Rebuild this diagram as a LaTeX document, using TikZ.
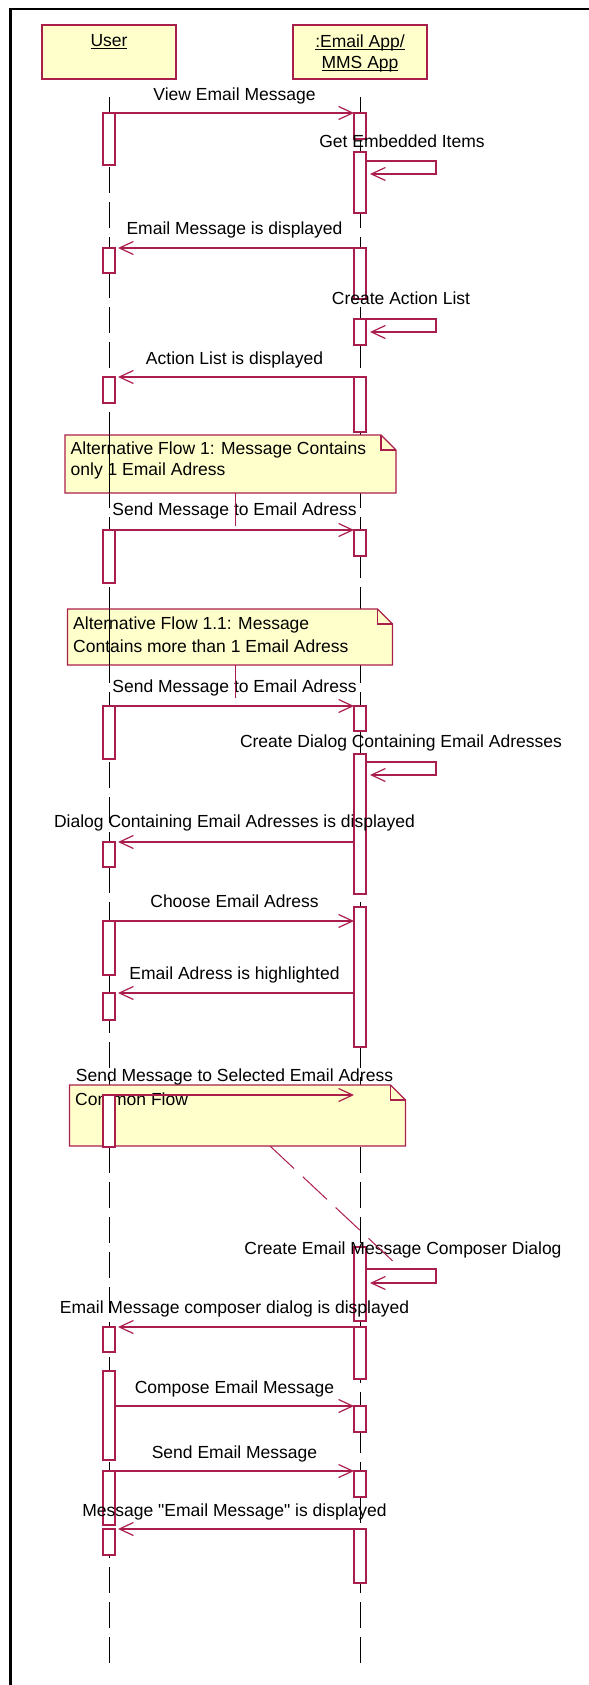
\documentclass[tikz,border=0pt]{standalone}
\usepackage{fontspec}
\setmainfont{Liberation Sans}[Ligatures=TeXOff]
\usetikzlibrary{arrows.meta}

\definecolor{roseline}{RGB}{170,30,75}
\definecolor{noteyellow}{RGB}{255,255,204}

\newcommand{\uname}[1]{\underline{\smash{#1}}}
% note outline with folded corner, drawn round an (empty) named node
\newcommand{\foldnote}[1]{%
  \draw[notefill] (#1.north west) -- ([xshift=-15bp]#1.north east)
    -- ([yshift=-15bp]#1.north east) -- (#1.south east) -- (#1.south west) -- cycle;
  \draw[noteline] ([xshift=-15bp]#1.north east) |- ([yshift=-15bp]#1.north east);}

\begin{document}
\begin{tikzpicture}[x=1bp, y=-1bp,
  font=\fontsize{17.5bp}{21bp}\selectfont,
  head/.style={draw=roseline, fill=noteyellow, line width=1.3bp, inner sep=0, outer sep=0,
    anchor=north, minimum width=134bp, minimum height=54bp},
  life/.style={black, line width=1bp, dash pattern=on 26bp off 9bp},
  act/.style={draw=roseline, fill=white, line width=1.2bp, inner sep=0, outer sep=0,
    anchor=north, minimum width=12bp},
  msg/.style={roseline, line width=1.2bp, -{Straight Barb[length=14bp,width=13bp]}},
  ret/.style={msg, shorten >=3bp},
  lbl/.style={anchor=base, inner sep=0},
  notearea/.style={anchor=north west, inner sep=0, outer sep=0},
  notefill/.style={draw=roseline, fill=noteyellow, line width=1.2bp},
  noteline/.style={roseline, line width=1.2bp},
  notetext/.style={anchor=north west, inner sep=0, align=left},
  link/.style={roseline, line width=1bp, dash pattern=on 33bp off 12bp}]

\useasboundingbox (0,0) rectangle (589,1685);

%--- frame ---
\draw[line width=2.5bp] (10.5,1700) -- (10.5,9) -- (600,9);

%--- objects ---
\node[head] (user) at (109,25) {};
\node[head] (app) at (360,25) {};
\node[lbl] (userlbl) at (109,47) {\uname{User}};
\node[lbl] (applbl) at (360,48) {\uname{:Email App/}};
\node[lbl] (applbl2) at (360,69) {\uname{MMS App}};

%--- lifelines ---
\coordinate (utop) at (109,97);
\coordinate (ubot) at (109,1668);
\coordinate (atop) at (360,97);
\coordinate (abot) at (360,1668);
\draw[life] (utop) -- (ubot);
\draw[life] (atop) -- (abot);

%--- alternative flow notes ---
\node[notearea, minimum width=331bp, minimum height=58bp] (n1) at (65,435) {};
\foldnote{n1}
\draw[black, line width=1bp] (n1.north -| utop) -- (n1.south -| utop);
\node[notetext] (n1t) at (70.5,442) {Alternative Flow 1: Message Contains\\only 1 Email Adress};

\node[notearea, minimum width=325bp, minimum height=56bp] (n2) at (67.5,609) {};
\foldnote{n2}
\draw[black, line width=1bp] (n2.north -| utop) -- (n2.south -| utop);
\node[notetext] (n2t) at (73,617) {Alternative Flow 1.1: Message\\[2bp]Contains more than 1 Email Adress};

\node[notearea, minimum width=336bp, minimum height=61bp] (n3) at (69.5,1085) {};
\foldnote{n3}
\node[anchor=base west, inner sep=0] (n3t) at (75,1105) {Common Flow};

%--- activations ---
\foreach \n/\t/\b in {u1/113/165, u2/248/273, u3/377/403, u4/530/583, u5/706/759,
    u6/842/867, u7/921/975, u8/993/1020, u9/1095/1147, u10/1327/1352,
    u11/1371/1460, u12/1471/1525, u13/1529/1555}
  \node[act, minimum height={(\b-\t)*1bp}] (\n) at (109,\t) {};
\foreach \n/\t/\b in {a1/113/139, a2/152/213, a3/248/299, a4/319/345, a5/377/432,
    a6/530/556, a7/706/731, a8/754/894, a9/907/1047, a10/1247/1321,
    a11/1327/1379, a12/1406/1432, a13/1471/1497, a14/1529/1583}
  \node[act, minimum height={(\b-\t)*1bp}] (\n) at (360,\t) {};

%--- messages ---
\draw[msg] (u1.north east) -- (a1.north west);
\node[lbl] (m1) at (234.5,100) {View Email Message};

\draw[msg] ([yshift=-9bp]a2.north east) -- ++(70,0) -- ++(0,13) -- ++(-66,0);
\node[lbl] (m2) at (402,147) {Get Embedded Items};

\draw[ret] (a3.north west) -- (u2.north east);
\node[lbl] (m3) at (234.5,234) {Email Message is displayed};

\draw[msg] (a4.north east) -- ++(70,0) -- ++(0,13) -- ++(-66,0);
\node[lbl] (m4) at (401,304) {Create Action List};

\draw[ret] (a5.north west) -- (u3.north east);
\node[lbl] (m5) at (234.5,364) {Action List is displayed};

\draw[msg] (u4.north east) -- (a6.north west);
\node[lbl] (m6) at (234.5,515) {Send Message to Email Adress};

\draw[msg] (u5.north east) -- (a7.north west);
\node[lbl] (m7) at (234.5,692) {Send Message to Email Adress};

\draw[msg] ([yshift=-8bp]a8.north east) -- ++(70,0) -- ++(0,13) -- ++(-66,0);
\node[lbl] (m8) at (401,747) {Create Dialog Containing Email Adresses};

\draw[ret] (u6.north east -| a8.west) -- (u6.north east);
\node[lbl] (m9) at (234.5,827) {Dialog Containing Email Adresses is displayed};

\draw[msg] (u7.north east) -- (u7.north east -| a9.west);
\node[lbl] (m10) at (234.5,907) {Choose Email Adress};

\draw[ret] (u8.north east -| a9.west) -- (u8.north east);
\node[lbl] (m11) at (234.5,979) {Email Adress is highlighted};

\draw[msg] (u9.north east) -- (u9.north east -| a9.west);
\node[lbl] (m12) at (234.5,1081) {Send Message to Selected Email Adress};

\draw[msg] ([yshift=-22bp]a10.north east) -- ++(70,0) -- ++(0,14) -- ++(-66,0);
\node[lbl] (m13) at (403,1254) {Create Email Message Composer Dialog};

\draw[ret] (a11.north west) -- (u10.north east);
\node[lbl] (m14) at (234.5,1313) {Email Message composer dialog is displayed};

\draw[msg] (a12.north west -| u11.east) -- (a12.north west);
\node[lbl] (m15) at (234.5,1393) {Compose Email Message};

\draw[msg] (u12.north east) -- (a13.north west);
\node[lbl] (m16) at (234.5,1458) {Send Email Message};

\draw[ret] (a14.north west) -- (u13.north east);
\node[lbl] (m17) at (234.5,1516) {Message \char34 Email Message\char34{} is displayed};

%--- note anchors ---
\coordinate (k1) at (235,530);
\coordinate (k2) at (235,706);
\coordinate (k3) at (397,1265);
\draw[link] (n1.south -| k1) -- (k1);
\draw[link] (n2.south -| k2) -- (k2);
\draw[link] ([xshift=200.5bp]n3.south west) -- (k3);

\end{tikzpicture}
\end{document}
